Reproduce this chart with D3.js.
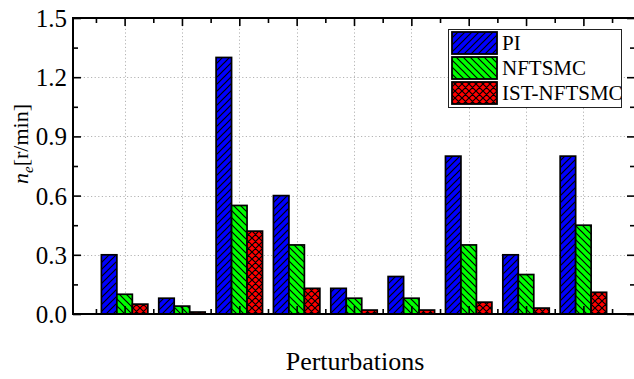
<!DOCTYPE html>
<html>
<head>
<meta charset="utf-8">
<script src="https://cdn.jsdelivr.net/npm/d3@7/dist/d3.min.js"></script>
<style>
  html, body { margin: 0; padding: 0; background: #fff; }
  svg { display: block; }
</style>
</head>
<body>
<svg id="chart" width="634" height="379"></svg>
<script>
// Perturbation cases (1..9) and speed error per controller, r/min
const categories = [1, 2, 3, 4, 5, 6, 7, 8, 9];
const seriesNames = ["PI", "NFTSMC", "IST-NFTSMC"];
const piValues     = [0.30, 0.08, 1.30, 0.60, 0.13, 0.19, 0.80, 0.30, 0.80];
const nftsmcValues = [0.10, 0.04, 0.55, 0.35, 0.08, 0.08, 0.35, 0.20, 0.45];
const istValues    = [0.05, 0.01, 0.42, 0.13, 0.02, 0.02, 0.06, 0.03, 0.11];
const yTicks = [0.0, 0.3, 0.6, 0.9, 1.2, 1.5];
const yMinorTicks = [0.15, 0.45, 0.75, 1.05, 1.35];

const series = [piValues, nftsmcValues, istValues];
const fills = ["#0000ff", "#00ff00", "#ff0000"];
const patternIds = ["hatchFwd", "hatchBack", "hatchCross"];
const FONT = '"Liberation Serif", "Times New Roman", Tinos, serif';

const svg = d3.select("#chart");
const L = 73, R = 635, T = 18, B = 314;

const x = d3.scaleLinear().domain([0.1, 9.9]).range([L, R]);
const y = d3.scaleLinear().domain([0, 1.5]).range([B, T]);

// hatch patterns
const defs = svg.append("defs");
function makePattern(id, color, d) {
  const p = defs.append("pattern")
    .attr("id", id).attr("patternUnits", "userSpaceOnUse")
    .attr("width", 7).attr("height", 7);
  p.append("rect").attr("width", 7).attr("height", 7).attr("fill", color);
  p.append("path").attr("d", d).attr("stroke", "#000")
    .attr("stroke-width", 1.2).attr("fill", "none");
}
makePattern("hatchFwd", fills[0], "M0,7 L7,0 M-1,1 L1,-1 M6,8 L8,6");
makePattern("hatchBack", fills[1], "M0,0 L7,7 M-1,6 L1,8 M6,-1 L8,1");
makePattern("hatchCross", fills[2], "M0,7 L7,0 M-1,1 L1,-1 M6,8 L8,6 M0,0 L7,7 M-1,6 L1,8 M6,-1 L8,1");

// dotted grid
const grid = svg.append("g").attr("stroke", "#b4b4b4").attr("stroke-width", 1)
  .attr("stroke-dasharray", "1.2,2.4");
grid.selectAll("line.h").data(yTicks.slice(1, -1)).join("line")
  .attr("x1", L).attr("x2", R)
  .attr("y1", d => Math.round(y(d)) + 0.5).attr("y2", d => Math.round(y(d)) + 0.5);
grid.selectAll("line.v").data(categories).join("line")
  .attr("y1", T).attr("y2", B)
  .attr("x1", d => Math.round(x(d)) + 0.5).attr("x2", d => Math.round(x(d)) + 0.5);

// bars
const barW = 0.27;
series.forEach((vals, s) => {
  svg.append("g").selectAll("rect").data(vals).join("rect")
    .attr("x", (d, i) => x(categories[i] + (s - 1.5) * barW))
    .attr("width", x(barW) - x(0))
    .attr("y", d => y(d))
    .attr("height", d => y(0) - y(d))
    .attr("fill", `url(#${patternIds[s]})`)
    .attr("stroke", "#000").attr("stroke-width", 1.7);
});

// axes with inward ticks
const minorX = d3.range(0.5, 10, 1);
function styleAxis(g) {
  g.select(".domain").remove();
  g.selectAll(".tick line").attr("stroke", "#000").attr("stroke-width", 1.6);
  g.selectAll(".tick text").remove();
}
svg.append("g").attr("transform", `translate(0,${B})`)
  .call(d3.axisBottom(x).tickValues(categories).tickSize(-8)).call(styleAxis);
svg.append("g").attr("transform", `translate(0,${B})`)
  .call(d3.axisBottom(x).tickValues(minorX).tickSize(-5)).call(styleAxis);
svg.append("g").attr("transform", `translate(0,${T})`)
  .call(d3.axisTop(x).tickValues(categories).tickSize(-8)).call(styleAxis);
svg.append("g").attr("transform", `translate(0,${T})`)
  .call(d3.axisTop(x).tickValues(minorX).tickSize(-5)).call(styleAxis);
svg.append("g").attr("transform", `translate(${R},0)`)
  .call(d3.axisRight(y).tickValues(yTicks).tickSize(-8)).call(styleAxis);
svg.append("g").attr("transform", `translate(${R},0)`)
  .call(d3.axisRight(y).tickValues(yMinorTicks).tickSize(-5)).call(styleAxis);
svg.append("g").attr("transform", `translate(${L},0)`)
  .call(d3.axisLeft(y).tickValues(yMinorTicks).tickSize(-5)).call(styleAxis);

const yAxis = svg.append("g").attr("transform", `translate(${L},0)`)
  .call(d3.axisLeft(y).tickValues(yTicks).tickSize(-8).tickPadding(6)
    .tickFormat(d3.format(".1f")));
yAxis.attr("font-family", FONT).attr("font-size", 25);
yAxis.select(".domain").remove();
yAxis.selectAll(".tick line").attr("stroke", "#000").attr("stroke-width", 1.6);
yAxis.selectAll(".tick text").attr("fill", "#000").attr("dy", "0.34em");

// frame
svg.append("path")
  .attr("d", `M${R},${B} L${L},${B} L${L},${T} L${R},${T} Z`)
  .attr("fill", "none").attr("stroke", "#000").attr("stroke-width", 2);

// legend
const lg = svg.append("g").attr("font-family", FONT);
lg.append("rect").attr("x", 448.5).attr("y", 29.5).attr("width", 173).attr("height", 78)
  .attr("fill", "#fff").attr("stroke", "#222").attr("stroke-width", 1);
seriesNames.forEach((name, s) => {
  const yy = 32 + s * 25;
  lg.append("rect").attr("x", 452).attr("y", yy).attr("width", 45).attr("height", 22)
    .attr("fill", `url(#${patternIds[s]})`).attr("stroke", "#000").attr("stroke-width", 1.8);
  lg.append("text").attr("x", 502).attr("y", yy + 18).attr("font-size", 21).text(name);
});

// axis titles
svg.append("text").attr("x", 355).attr("y", 370).attr("text-anchor", "middle")
  .attr("font-family", FONT).attr("font-size", 26).text("Perturbations");

const yt = svg.append("text").attr("transform", "translate(28,144) rotate(-90)")
  .attr("text-anchor", "middle").attr("font-family", FONT).attr("font-size", 22);
yt.append("tspan").attr("font-style", "italic").text("n");
yt.append("tspan").attr("font-style", "italic").attr("font-size", 15).attr("dy", 5).text("e");
yt.append("tspan").attr("dy", -5).text("[r/min]");
</script>
</body>
</html>
